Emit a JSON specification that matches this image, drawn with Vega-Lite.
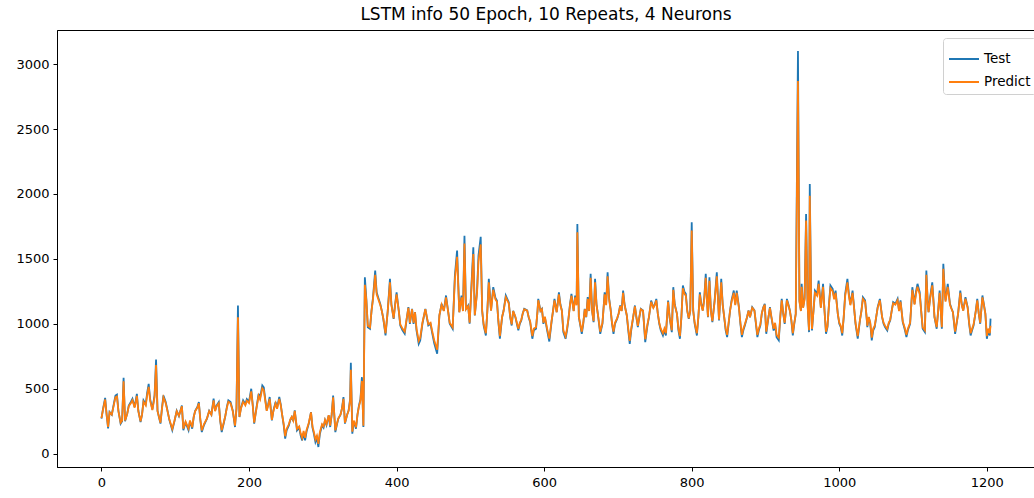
{
  "$schema": "https://vega.github.io/schema/vega-lite/v6.json",
  "width": 978,
  "height": 437,
  "autosize": {"type": "none"},
  "padding": {"left": 57, "top": 30, "right": 0, "bottom": 31},
  "background": "white",
  "title": {"text": "LSTM info 50 Epoch, 10 Repeats, 4 Neurons", "font": "DejaVu Sans", "fontSize": 17, "fontWeight": "normal", "color": "black", "offset": 6},
  "config": {
    "view": {"stroke": "black", "strokeWidth": 1},
    "axis": {"domainColor": "black", "tickColor": "black", "tickSize": 4, "tickWidth": 1, "domainWidth": 1, "labelFont": "DejaVu Sans", "labelFontSize": 13, "labelColor": "black", "grid": false, "title": null, "format": "d"}
  },
  "data": {"values": [
{"x":0,"Test":270,"Predict":273},{"x":2,"Test":340,"Predict":336},{"x":5,"Test":430,"Predict":417},{"x":7,"Test":300,"Predict":300},{"x":9,"Test":195,"Predict":206},{"x":11,"Test":320,"Predict":318},{"x":14,"Test":300,"Predict":300},{"x":17,"Test":390,"Predict":381},{"x":19,"Test":448,"Predict":433},{"x":21,"Test":455,"Predict":440},{"x":23,"Test":330,"Predict":327},{"x":26,"Test":231,"Predict":238},{"x":28,"Test":250,"Predict":255},{"x":30,"Test":585,"Predict":557},{"x":32,"Test":250,"Predict":255},{"x":35,"Test":310,"Predict":309},{"x":37,"Test":371,"Predict":364},{"x":40,"Test":400,"Predict":390},{"x":42,"Test":423,"Predict":411},{"x":45,"Test":360,"Predict":354},{"x":48,"Test":461,"Predict":445},{"x":50,"Test":330,"Predict":327},{"x":53,"Test":243,"Predict":249},{"x":55,"Test":300,"Predict":300},{"x":57,"Test":410,"Predict":399},{"x":60,"Test":380,"Predict":372},{"x":62,"Test":470,"Predict":453},{"x":64,"Test":538,"Predict":514},{"x":66,"Test":420,"Predict":408},{"x":69,"Test":340,"Predict":336},{"x":72,"Test":450,"Predict":435},{"x":74,"Test":725,"Predict":683},{"x":76,"Test":330,"Predict":327},{"x":78,"Test":280,"Predict":282},{"x":80,"Test":231,"Predict":238},{"x":82,"Test":350,"Predict":345},{"x":84,"Test":448,"Predict":433},{"x":87,"Test":400,"Predict":390},{"x":89,"Test":346,"Predict":341},{"x":92,"Test":260,"Predict":264},{"x":96,"Test":180,"Predict":192},{"x":99,"Test":250,"Predict":255},{"x":102,"Test":330,"Predict":327},{"x":105,"Test":290,"Predict":291},{"x":109,"Test":371,"Predict":364},{"x":111,"Test":180,"Predict":192},{"x":114,"Test":240,"Predict":246},{"x":118,"Test":180,"Predict":192},{"x":120,"Test":250,"Predict":255},{"x":123,"Test":192,"Predict":203},{"x":125,"Test":280,"Predict":282},{"x":127,"Test":330,"Predict":327},{"x":130,"Test":360,"Predict":354},{"x":132,"Test":397,"Predict":387},{"x":134,"Test":260,"Predict":264},{"x":136,"Test":166,"Predict":179},{"x":139,"Test":220,"Predict":228},{"x":143,"Test":269,"Predict":272},{"x":146,"Test":330,"Predict":327},{"x":149,"Test":300,"Predict":300},{"x":152,"Test":423,"Predict":411},{"x":154,"Test":330,"Predict":327},{"x":156,"Test":370,"Predict":363},{"x":159,"Test":397,"Predict":387},{"x":161,"Test":250,"Predict":255},{"x":163,"Test":166,"Predict":179},{"x":166,"Test":240,"Predict":246},{"x":168,"Test":294,"Predict":295},{"x":170,"Test":360,"Predict":354},{"x":172,"Test":410,"Predict":399},{"x":175,"Test":397,"Predict":387},{"x":178,"Test":330,"Predict":327},{"x":181,"Test":205,"Predict":215},{"x":183,"Test":350,"Predict":345},{"x":185,"Test":1140,"Predict":1050},{"x":187,"Test":282,"Predict":284},{"x":189,"Test":350,"Predict":345},{"x":192,"Test":410,"Predict":399},{"x":195,"Test":380,"Predict":372},{"x":197,"Test":420,"Predict":408},{"x":200,"Test":400,"Predict":390},{"x":203,"Test":500,"Predict":480},{"x":205,"Test":380,"Predict":372},{"x":207,"Test":231,"Predict":238},{"x":210,"Test":350,"Predict":345},{"x":213,"Test":461,"Predict":445},{"x":215,"Test":430,"Predict":417},{"x":218,"Test":525,"Predict":503},{"x":220,"Test":510,"Predict":489},{"x":222,"Test":420,"Predict":408},{"x":224,"Test":333,"Predict":330},{"x":226,"Test":380,"Predict":372},{"x":228,"Test":436,"Predict":422},{"x":231,"Test":256,"Predict":260},{"x":233,"Test":330,"Predict":327},{"x":236,"Test":397,"Predict":387},{"x":238,"Test":350,"Predict":345},{"x":241,"Test":436,"Predict":422},{"x":243,"Test":380,"Predict":372},{"x":245,"Test":295,"Predict":296},{"x":247,"Test":220,"Predict":228},{"x":249,"Test":115,"Predict":134},{"x":251,"Test":180,"Predict":192},{"x":254,"Test":218,"Predict":226},{"x":256,"Test":260,"Predict":264},{"x":258,"Test":282,"Predict":284},{"x":260,"Test":250,"Predict":255},{"x":262,"Test":333,"Predict":330},{"x":265,"Test":179,"Predict":191},{"x":268,"Test":200,"Predict":210},{"x":270,"Test":140,"Predict":156},{"x":272,"Test":102,"Predict":122},{"x":274,"Test":160,"Predict":174},{"x":276,"Test":102,"Predict":122},{"x":278,"Test":170,"Predict":183},{"x":281,"Test":231,"Predict":238},{"x":284,"Test":320,"Predict":318},{"x":286,"Test":200,"Predict":210},{"x":288,"Test":150,"Predict":165},{"x":290,"Test":89,"Predict":110},{"x":292,"Test":120,"Predict":138},{"x":294,"Test":51,"Predict":76},{"x":296,"Test":150,"Predict":165},{"x":299,"Test":218,"Predict":226},{"x":301,"Test":200,"Predict":210},{"x":303,"Test":256,"Predict":260},{"x":305,"Test":220,"Predict":228},{"x":308,"Test":295,"Predict":296},{"x":310,"Test":205,"Predict":215},{"x":312,"Test":300,"Predict":300},{"x":314,"Test":448,"Predict":433},{"x":317,"Test":166,"Predict":179},{"x":319,"Test":220,"Predict":228},{"x":321,"Test":269,"Predict":272},{"x":324,"Test":300,"Predict":300},{"x":326,"Test":350,"Predict":345},{"x":328,"Test":436,"Predict":422},{"x":330,"Test":231,"Predict":238},{"x":333,"Test":300,"Predict":300},{"x":335,"Test":333,"Predict":330},{"x":337,"Test":420,"Predict":408},{"x":338,"Test":700,"Predict":645},{"x":340,"Test":154,"Predict":169},{"x":342,"Test":250,"Predict":255},{"x":345,"Test":192,"Predict":203},{"x":347,"Test":300,"Predict":300},{"x":349,"Test":371,"Predict":364},{"x":351,"Test":420,"Predict":408},{"x":353,"Test":589,"Predict":560},{"x":355,"Test":205,"Predict":215},
{"x":357,"Test":1359,"Predict":1300},{"x":359,"Test":1192,"Predict":1181},{"x":361,"Test":974,"Predict":985},{"x":364,"Test":961,"Predict":973},{"x":366,"Test":1100,"Predict":1098},{"x":368,"Test":1200,"Predict":1188},{"x":371,"Test":1410,"Predict":1377},{"x":373,"Test":1243,"Predict":1227},{"x":375,"Test":1205,"Predict":1193},{"x":378,"Test":1150,"Predict":1143},{"x":380,"Test":1100,"Predict":1098},{"x":382,"Test":1038,"Predict":1042},{"x":385,"Test":910,"Predict":927},{"x":388,"Test":1100,"Predict":1098},{"x":391,"Test":1346,"Predict":1319},{"x":393,"Test":1150,"Predict":1143},{"x":396,"Test":1038,"Predict":1042},{"x":398,"Test":1150,"Predict":1143},{"x":400,"Test":1243,"Predict":1227},{"x":403,"Test":1100,"Predict":1098},{"x":405,"Test":987,"Predict":996},{"x":408,"Test":950,"Predict":963},{"x":411,"Test":923,"Predict":939},{"x":414,"Test":1050,"Predict":1053},{"x":416,"Test":1128,"Predict":1123},{"x":418,"Test":1000,"Predict":1008},{"x":421,"Test":1115,"Predict":1112},{"x":423,"Test":1000,"Predict":1008},{"x":425,"Test":1090,"Predict":1089},{"x":427,"Test":950,"Predict":963},{"x":430,"Test":846,"Predict":869},{"x":432,"Test":872,"Predict":893},{"x":435,"Test":1000,"Predict":1008},{"x":439,"Test":1115,"Predict":1112},{"x":441,"Test":1050,"Predict":1053},{"x":443,"Test":987,"Predict":996},{"x":446,"Test":1000,"Predict":1008},{"x":448,"Test":936,"Predict":950},{"x":451,"Test":850,"Predict":873},{"x":455,"Test":769,"Predict":800},{"x":458,"Test":1064,"Predict":1066},{"x":461,"Test":1154,"Predict":1147},{"x":464,"Test":1100,"Predict":1098},{"x":467,"Test":1218,"Predict":1204},{"x":470,"Test":1090,"Predict":1089},{"x":472,"Test":1000,"Predict":1008},{"x":476,"Test":961,"Predict":973},{"x":479,"Test":1372,"Predict":1343},{"x":482,"Test":1564,"Predict":1516},{"x":485,"Test":1090,"Predict":1089},{"x":488,"Test":1218,"Predict":1204},{"x":490,"Test":1100,"Predict":1098},{"x":492,"Test":1679,"Predict":1619},{"x":494,"Test":1115,"Predict":1112},{"x":497,"Test":1141,"Predict":1135},{"x":499,"Test":1000,"Predict":1008},{"x":501,"Test":1243,"Predict":1227},{"x":504,"Test":1589,"Predict":1538},{"x":506,"Test":1064,"Predict":1066},{"x":509,"Test":1250,"Predict":1233},{"x":511,"Test":1525,"Predict":1481},{"x":514,"Test":1670,"Predict":1611},{"x":516,"Test":1100,"Predict":1098},{"x":518,"Test":987,"Predict":996},{"x":521,"Test":910,"Predict":927},{"x":523,"Test":1100,"Predict":1098},{"x":525,"Test":1346,"Predict":1319},{"x":528,"Test":1103,"Predict":1101},{"x":531,"Test":1282,"Predict":1262},{"x":534,"Test":1200,"Predict":1188},{"x":536,"Test":1180,"Predict":1170},{"x":538,"Test":1013,"Predict":1020},{"x":540,"Test":885,"Predict":905},{"x":543,"Test":1051,"Predict":1054},{"x":545,"Test":1100,"Predict":1098},{"x":548,"Test":1218,"Predict":1204},{"x":552,"Test":1167,"Predict":1158},{"x":554,"Test":1050,"Predict":1053},{"x":556,"Test":987,"Predict":996},{"x":558,"Test":1100,"Predict":1098},{"x":561,"Test":1051,"Predict":1054},{"x":563,"Test":1000,"Predict":1008},{"x":565,"Test":949,"Predict":962},{"x":567,"Test":1000,"Predict":1008},{"x":569,"Test":1026,"Predict":1031},{"x":571,"Test":1080,"Predict":1080},{"x":573,"Test":1115,"Predict":1112},{"x":577,"Test":1103,"Predict":1101},{"x":579,"Test":1050,"Predict":1053},{"x":581,"Test":1013,"Predict":1020},{"x":584,"Test":885,"Predict":905},{"x":586,"Test":950,"Predict":963},{"x":589,"Test":962,"Predict":974},{"x":591,"Test":1100,"Predict":1098},{"x":592,"Test":1192,"Predict":1181},{"x":595,"Test":1100,"Predict":1098},{"x":597,"Test":1115,"Predict":1112},{"x":599,"Test":1000,"Predict":1008},{"x":601,"Test":1051,"Predict":1054},{"x":604,"Test":950,"Predict":963},{"x":607,"Test":864,"Predict":886},{"x":610,"Test":1013,"Predict":1020},{"x":612,"Test":1100,"Predict":1098},{"x":614,"Test":1192,"Predict":1181},{"x":617,"Test":1090,"Predict":1089},{"x":620,"Test":1243,"Predict":1227},{"x":622,"Test":1150,"Predict":1143},{"x":624,"Test":1103,"Predict":1101},{"x":626,"Test":936,"Predict":950},{"x":629,"Test":885,"Predict":905},{"x":631,"Test":950,"Predict":963},{"x":633,"Test":1038,"Predict":1042},{"x":635,"Test":1150,"Predict":1143},{"x":637,"Test":1231,"Predict":1216},{"x":640,"Test":1100,"Predict":1098},{"x":642,"Test":1218,"Predict":1204},{"x":644,"Test":1150,"Predict":1143},{"x":645,"Test":1769,"Predict":1705},{"x":647,"Test":1051,"Predict":1054},{"x":651,"Test":923,"Predict":939},{"x":653,"Test":1000,"Predict":1008},{"x":655,"Test":1115,"Predict":1112},{"x":657,"Test":1050,"Predict":1053},{"x":659,"Test":1205,"Predict":1193},{"x":661,"Test":1100,"Predict":1098},{"x":663,"Test":1385,"Predict":1355},{"x":665,"Test":1100,"Predict":1098},{"x":667,"Test":1013,"Predict":1020},{"x":669,"Test":1346,"Predict":1319},{"x":671,"Test":1150,"Predict":1143},{"x":673,"Test":1064,"Predict":1066},{"x":676,"Test":923,"Predict":939},{"x":679,"Test":1000,"Predict":1008},{"x":682,"Test":1243,"Predict":1227},{"x":684,"Test":1150,"Predict":1143},{"x":686,"Test":1397,"Predict":1365},{"x":688,"Test":1200,"Predict":1188},{"x":690,"Test":1115,"Predict":1112},{"x":692,"Test":1000,"Predict":1008},{"x":694,"Test":923,"Predict":939},{"x":696,"Test":1000,"Predict":1008},{"x":699,"Test":1040,"Predict":1044},{"x":701,"Test":1080,"Predict":1080},{"x":703,"Test":1141,"Predict":1135},{"x":705,"Test":1100,"Predict":1098},{"x":707,"Test":1256,"Predict":1238},{"x":709,"Test":1150,"Predict":1143},{"x":712,"Test":1064,"Predict":1066},{"x":714,"Test":950,"Predict":963},{"x":716,"Test":846,"Predict":869},{"x":718,"Test":950,"Predict":963},{"x":720,"Test":1026,"Predict":1031},{"x":723,"Test":1141,"Predict":1135},{"x":725,"Test":1050,"Predict":1053},{"x":727,"Test":974,"Predict":985},{"x":729,"Test":1050,"Predict":1053},{"x":731,"Test":1115,"Predict":1112},{"x":734,"Test":1103,"Predict":1101},{"x":737,"Test":859,"Predict":881},{"x":740,"Test":987,"Predict":996},{"x":742,"Test":1050,"Predict":1053},{"x":745,"Test":1179,"Predict":1169},{"x":748,"Test":1128,"Predict":1123},{"x":750,"Test":1150,"Predict":1143},{"x":752,"Test":1192,"Predict":1181},{"x":754,"Test":1080,"Predict":1080},{"x":756,"Test":1000,"Predict":1008},{"x":758,"Test":950,"Predict":963},{"x":761,"Test":910,"Predict":927},{"x":763,"Test":950,"Predict":963},{"x":765,"Test":910,"Predict":927},{"x":768,"Test":1179,"Predict":1169},{"x":770,"Test":1050,"Predict":1053},{"x":773,"Test":936,"Predict":950},{"x":775,"Test":1282,"Predict":1262},{"x":777,"Test":1150,"Predict":1143},{"x":780,"Test":1077,"Predict":1077},{"x":782,"Test":950,"Predict":963},{"x":784,"Test":885,"Predict":905},{"x":786,"Test":1050,"Predict":1053},{"x":788,"Test":1295,"Predict":1274},{"x":790,"Test":1250,"Predict":1233},{"x":792,"Test":1231,"Predict":1216},{"x":794,"Test":1100,"Predict":1098},{"x":796,"Test":1038,"Predict":1042},{"x":798,"Test":1100,"Predict":1098},{"x":800,"Test":1782,"Predict":1718},{"x":802,"Test":1103,"Predict":1101},{"x":804,"Test":1000,"Predict":1008},{"x":807,"Test":910,"Predict":927},{"x":809,"Test":1050,"Predict":1053},{"x":811,"Test":1243,"Predict":1227},{"x":813,"Test":1150,"Predict":1143},{"x":815,"Test":1103,"Predict":1101},{"x":817,"Test":1200,"Predict":1188},{"x":819,"Test":1385,"Predict":1355},{"x":821,"Test":1150,"Predict":1143},{"x":822,"Test":1051,"Predict":1054},{"x":824,"Test":1359,"Predict":1331},{"x":826,"Test":1100,"Predict":1098},{"x":828,"Test":1013,"Predict":1020},{"x":831,"Test":1179,"Predict":1169},{"x":834,"Test":1397,"Predict":1365},{"x":836,"Test":1150,"Predict":1143},{"x":837,"Test":1026,"Predict":1031},{"x":840,"Test":1346,"Predict":1319},{"x":842,"Test":1150,"Predict":1143},{"x":844,"Test":1051,"Predict":1054},{"x":846,"Test":950,"Predict":963},{"x":848,"Test":897,"Predict":915},{"x":850,"Test":1000,"Predict":1008},{"x":852,"Test":1103,"Predict":1101},{"x":854,"Test":1180,"Predict":1170},{"x":857,"Test":1256,"Predict":1238},{"x":859,"Test":1150,"Predict":1143},{"x":861,"Test":1256,"Predict":1238},{"x":864,"Test":1128,"Predict":1123},{"x":866,"Test":1000,"Predict":1008},{"x":868,"Test":897,"Predict":915},{"x":870,"Test":950,"Predict":963},{"x":872,"Test":987,"Predict":996},{"x":875,"Test":1050,"Predict":1053},{"x":877,"Test":1103,"Predict":1101},{"x":879,"Test":1050,"Predict":1053},{"x":882,"Test":1128,"Predict":1123},{"x":885,"Test":1103,"Predict":1101},{"x":887,"Test":1000,"Predict":1008},{"x":889,"Test":897,"Predict":915},{"x":891,"Test":950,"Predict":963},{"x":893,"Test":987,"Predict":996},{"x":895,"Test":1080,"Predict":1080},{"x":897,"Test":1128,"Predict":1123},{"x":899,"Test":1154,"Predict":1147},{"x":901,"Test":923,"Predict":939},{"x":904,"Test":1050,"Predict":1053},{"x":906,"Test":1128,"Predict":1123},{"x":908,"Test":1050,"Predict":1053},{"x":911,"Test":948,"Predict":961},{"x":913,"Test":1000,"Predict":1008},{"x":915,"Test":897,"Predict":915},{"x":918,"Test":872,"Predict":893},{"x":920,"Test":1050,"Predict":1053},{"x":922,"Test":1192,"Predict":1181},{"x":924,"Test":1080,"Predict":1080},{"x":926,"Test":1000,"Predict":1008},{"x":929,"Test":1192,"Predict":1181},{"x":931,"Test":1150,"Predict":1143},{"x":933,"Test":1103,"Predict":1101},{"x":935,"Test":1026,"Predict":1031},{"x":937,"Test":910,"Predict":927},{"x":939,"Test":1000,"Predict":1008},{"x":941,"Test":1077,"Predict":1077},{"x":944,"Test":3102,"Predict":2871},{"x":946,"Test":1180,"Predict":1170},{"x":948,"Test":1100,"Predict":1098},{"x":949,"Test":1308,"Predict":1285},{"x":951,"Test":1128,"Predict":1123},{"x":953,"Test":1200,"Predict":1188},{"x":955,"Test":1846,"Predict":1795},{"x":957,"Test":1154,"Predict":1147},{"x":959,"Test":936,"Predict":950},{"x":960,"Test":2077,"Predict":1987},{"x":962,"Test":1100,"Predict":1098},{"x":963,"Test":948,"Predict":961},{"x":965,"Test":1100,"Predict":1098},{"x":967,"Test":1256,"Predict":1238},{"x":970,"Test":1231,"Predict":1216},{"x":972,"Test":1333,"Predict":1308},{"x":975,"Test":1128,"Predict":1123},{"x":978,"Test":1308,"Predict":1285},{"x":980,"Test":1100,"Predict":1098},{"x":982,"Test":923,"Predict":939},{"x":984,"Test":974,"Predict":985},{"x":986,"Test":1150,"Predict":1143},{"x":988,"Test":1295,"Predict":1274},{"x":991,"Test":1269,"Predict":1250},{"x":993,"Test":1200,"Predict":1188},{"x":995,"Test":1256,"Predict":1238},{"x":998,"Test":1077,"Predict":1077},{"x":1000,"Test":1000,"Predict":1008},{"x":1002,"Test":974,"Predict":985},{"x":1004,"Test":910,"Predict":927},{"x":1006,"Test":1050,"Predict":1053},{"x":1008,"Test":1231,"Predict":1216},{"x":1011,"Test":1346,"Predict":1319},{"x":1013,"Test":1231,"Predict":1216},{"x":1015,"Test":1150,"Predict":1143},{"x":1018,"Test":1256,"Predict":1238},{"x":1020,"Test":1128,"Predict":1123},{"x":1022,"Test":1000,"Predict":1008},{"x":1025,"Test":885,"Predict":905},{"x":1028,"Test":1026,"Predict":1031},{"x":1030,"Test":1100,"Predict":1098},{"x":1032,"Test":1205,"Predict":1193},{"x":1035,"Test":1180,"Predict":1170},{"x":1037,"Test":1050,"Predict":1053},{"x":1038,"Test":974,"Predict":985},{"x":1040,"Test":1050,"Predict":1053},{"x":1042,"Test":1000,"Predict":1008},{"x":1044,"Test":872,"Predict":893},{"x":1046,"Test":950,"Predict":963},{"x":1048,"Test":974,"Predict":985},{"x":1050,"Test":1050,"Predict":1053},{"x":1052,"Test":1128,"Predict":1123},{"x":1055,"Test":1192,"Predict":1181},{"x":1057,"Test":1100,"Predict":1098},{"x":1058,"Test":1051,"Predict":1054},{"x":1060,"Test":1000,"Predict":1008},{"x":1062,"Test":974,"Predict":985},{"x":1065,"Test":948,"Predict":961},{"x":1067,"Test":1000,"Predict":1008},{"x":1069,"Test":1026,"Predict":1031},{"x":1071,"Test":1100,"Predict":1098},{"x":1073,"Test":1167,"Predict":1158},{"x":1076,"Test":1154,"Predict":1147},{"x":1079,"Test":1192,"Predict":1181},{"x":1081,"Test":1100,"Predict":1098},{"x":1083,"Test":1180,"Predict":1170},{"x":1086,"Test":1013,"Predict":1020},{"x":1089,"Test":950,"Predict":963},{"x":1091,"Test":897,"Predict":915},{"x":1093,"Test":950,"Predict":963},{"x":1096,"Test":1000,"Predict":1008},{"x":1099,"Test":1282,"Predict":1262},{"x":1101,"Test":1200,"Predict":1188},{"x":1102,"Test":1154,"Predict":1147},{"x":1104,"Test":1250,"Predict":1233},{"x":1106,"Test":1308,"Predict":1285},{"x":1109,"Test":1243,"Predict":1227},{"x":1111,"Test":1100,"Predict":1098},{"x":1113,"Test":962,"Predict":974},{"x":1116,"Test":936,"Predict":950},{"x":1118,"Test":1410,"Predict":1377},{"x":1120,"Test":1150,"Predict":1143},{"x":1121,"Test":1090,"Predict":1089},{"x":1123,"Test":1200,"Predict":1188},{"x":1126,"Test":1320,"Predict":1296},{"x":1128,"Test":1150,"Predict":1143},{"x":1129,"Test":1051,"Predict":1054},{"x":1132,"Test":962,"Predict":974},{"x":1134,"Test":1100,"Predict":1098},{"x":1136,"Test":1256,"Predict":1238},{"x":1139,"Test":962,"Predict":974},{"x":1141,"Test":1462,"Predict":1424},{"x":1143,"Test":1250,"Predict":1233},{"x":1144,"Test":1180,"Predict":1170},{"x":1147,"Test":1308,"Predict":1285},{"x":1150,"Test":1154,"Predict":1147},{"x":1152,"Test":1120,"Predict":1116},{"x":1154,"Test":1090,"Predict":1089},{"x":1157,"Test":923,"Predict":939},{"x":1159,"Test":1000,"Predict":1008},{"x":1161,"Test":1077,"Predict":1077},{"x":1164,"Test":1256,"Predict":1238},{"x":1166,"Test":1150,"Predict":1143},{"x":1168,"Test":1103,"Predict":1101},{"x":1171,"Test":1205,"Predict":1193},{"x":1174,"Test":1128,"Predict":1123},{"x":1176,"Test":1000,"Predict":1008},{"x":1178,"Test":910,"Predict":927},{"x":1180,"Test":950,"Predict":963},{"x":1182,"Test":987,"Predict":996},{"x":1185,"Test":1100,"Predict":1098},{"x":1187,"Test":1192,"Predict":1181},{"x":1189,"Test":1080,"Predict":1080},{"x":1191,"Test":1000,"Predict":1008},{"x":1194,"Test":1218,"Predict":1204},{"x":1196,"Test":1150,"Predict":1143},{"x":1198,"Test":1077,"Predict":1077},{"x":1200,"Test":885,"Predict":905},{"x":1202,"Test":950,"Predict":963},{"x":1204,"Test":910,"Predict":927},{"x":1205,"Test":1040,"Predict":985}
  ]},
  "encoding": {
    "x": {"field": "x", "type": "quantitative", "scale": {"domain": [-60.25, 1265.25], "nice": false, "zero": false},
      "axis": {"values": [0, 200, 400, 600, 800, 1000, 1200], "labelPadding": 5, "title": null, "format": "d"}}
  },
  "layer": [
    {"mark": {"type": "line", "strokeWidth": 1.8, "clip": true},
     "encoding": {
       "y": {"field": "Test", "type": "quantitative", "scale": {"domain": [-103, 3263], "nice": false, "zero": false},
         "axis": {"values": [0, 500, 1000, 1500, 2000, 2500, 3000], "labelPadding": 4, "title": null, "format": "d"}},
       "color": {"datum": "Test", "type": "nominal",
         "scale": {"domain": ["Test", "Predict"], "range": ["#1f77b4", "#ff7f0e"]},
         "legend": {"title": null, "orient": "none", "legendX": 886, "legendY": 8, "symbolType": "stroke", "symbolSize": 900, "symbolStrokeWidth": 2, "labelFont": "DejaVu Sans", "labelFontSize": 13.5, "labelColor": "black", "labelOffset": 4, "padding": 5, "strokeColor": "#d0d0d0", "fillColor": "white", "cornerRadius": 3, "rowPadding": 0}}
     }},
    {"mark": {"type": "line", "strokeWidth": 1.8, "clip": true},
     "encoding": {
       "y": {"field": "Predict", "type": "quantitative", "title": null},
       "color": {"datum": "Predict", "type": "nominal"}
     }}
  ]
}
